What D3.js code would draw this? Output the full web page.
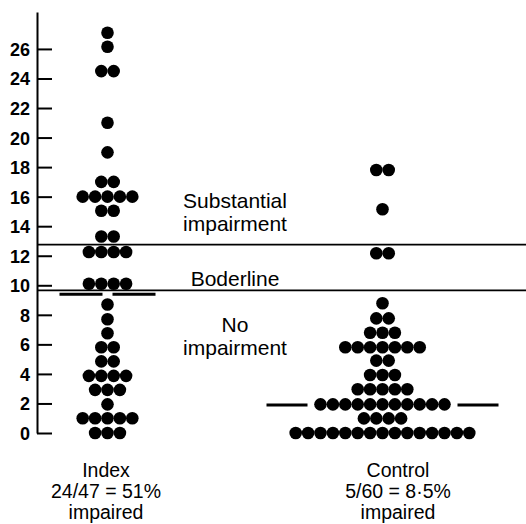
<!DOCTYPE html>
<html>
<head>
<meta charset="utf-8">
<script src="https://cdn.jsdelivr.net/npm/d3@7"></script>
<style>
  html, body { margin: 0; padding: 0; background: #fff; }
  svg { display: block; }
  text { font-family: "Liberation Sans", Arial, Helvetica, sans-serif; fill: #000; }
</style>
</head>
<body>
<svg id="chart" width="526" height="524"></svg>
<script>
// ---- data ----
const groups = ["Index", "Control"];
const indexLevels  = [27.1, 26.15, 24.5, 21.0, 19.0, 17.0, 16.0, 15.05, 13.3, 12.25, 10.1, 8.7, 7.7, 6.75, 5.8, 4.85, 3.87, 2.92, 1.94, 1.0, 0];
const indexCounts  = [1,    1,     2,    1,    1,    2,    5,    2,     2,    4,     4,    1,   1,   1,    2,   2,    4,    3,    1,    5,   3];
const controlLevels = [17.8, 15.15, 12.17, 8.78, 7.76, 6.79, 5.8, 4.9, 3.93, 2.96, 1.94, 0.99, 0];
const controlCounts = [2,    1,     2,     1,    2,    3,    7,   2,   3,    5,    11,   4,    15];
const medians = [9.4, 1.9];
const cutoffs = [12.75, 9.65];
const yTicks = [0, 2, 4, 6, 8, 10, 12, 14, 16, 18, 20, 22, 24, 26];
const zoneLabels = [
  { lines: ["Substantial", "impairment"], y: 14.95 },
  { lines: ["Boderline"], y: 10.45 },
  { lines: ["No", "impairment"], y: 6.55 }
];
const groupLabels = [
  ["Index", "24/47 = 51%", "impaired"],
  ["Control", "5/60 = 8\u00B75%", "impaired"]
];

// ---- layout ----
const svg = d3.select("#chart");
const W = 526, H = 524;
const axisX = 37;
const y = d3.scaleLinear().domain([0, 28.5]).range([433, 12]);
const x = d3.scaleOrdinal().domain(groups).range([107.5, 382.5]);
const r = 6.3, step = 12.4;

// axis
const axis = d3.axisLeft(y).tickValues(yTicks).tickSizeInner(-15).tickSizeOuter(0).tickPadding(7);
const gAxis = svg.append("g").attr("transform", `translate(${axisX},0)`).call(axis);
gAxis.select(".domain").attr("stroke", "#000").attr("stroke-width", 2);
gAxis.selectAll(".tick line").attr("stroke", "#000").attr("stroke-width", 2);
gAxis.selectAll(".tick text")
  .style("font-family", '"Liberation Sans", Arial, sans-serif')
  .style("font-weight", "bold")
  .style("font-size", "18px")
  .attr("fill", "#000")
  .attr("dy", "0.36em");

// cutoff lines
svg.selectAll("line.cut").data(cutoffs).join("line")
  .attr("class", "cut")
  .attr("x1", axisX).attr("x2", W)
  .attr("y1", d => y(d)).attr("y2", d => y(d))
  .attr("stroke", "#000").attr("stroke-width", 1.8);

// dots
function expand(levels, counts, g) {
  const out = [];
  levels.forEach((v, i) => {
    const n = counts[i];
    for (let k = 0; k < n; k++) out.push({ g, v, off: (k - (n - 1) / 2) * step });
  });
  return out;
}
const dots = expand(indexLevels, indexCounts, "Index").concat(expand(controlLevels, controlCounts, "Control"));
svg.selectAll("circle.dot").data(dots).join("circle")
  .attr("class", "dot")
  .attr("cx", d => x(d.g) + d.off)
  .attr("cy", d => y(d.v))
  .attr("r", r)
  .attr("fill", "#000");

// median segments (gap half-width and length per group)
const medStyle = { Index: { gap: 5, len: 48 }, Control: { gap: 75, len: 116 } };
const segs = [];
groups.forEach((g, i) => {
  const s = medStyle[g];
  segs.push({ g, v: medians[i], a: -s.len, b: -s.gap });
  segs.push({ g, v: medians[i], a: s.gap, b: s.len });
});
svg.selectAll("line.med").data(segs).join("line")
  .attr("class", "med")
  .attr("x1", d => x(d.g) + d.a).attr("x2", d => x(d.g) + d.b)
  .attr("y1", d => y(d.v)).attr("y2", d => y(d.v))
  .attr("stroke", "#000").attr("stroke-width", 3);

// zone labels
const zx = 235;
zoneLabels.forEach(z => {
  const n = z.lines.length;
  const lh = 23.5;
  z.lines.forEach((ln, i) => {
    svg.append("text").attr("text-anchor", "middle").style("font-size", "21px")
      .attr("x", zx).attr("y", y(z.y) + (i - (n - 1) / 2) * lh + 7.5).text(ln);
  });
});

// group labels
const labelX = { Index: 106, Control: 398 };
groups.forEach((g, gi) => {
  groupLabels[gi].forEach((ln, i) => {
    svg.append("text").attr("text-anchor", "middle").style("font-size", "19.5px")
      .attr("x", labelX[g]).attr("y", 477 + i * 21).text(ln);
  });
});
</script>
</body>
</html>
